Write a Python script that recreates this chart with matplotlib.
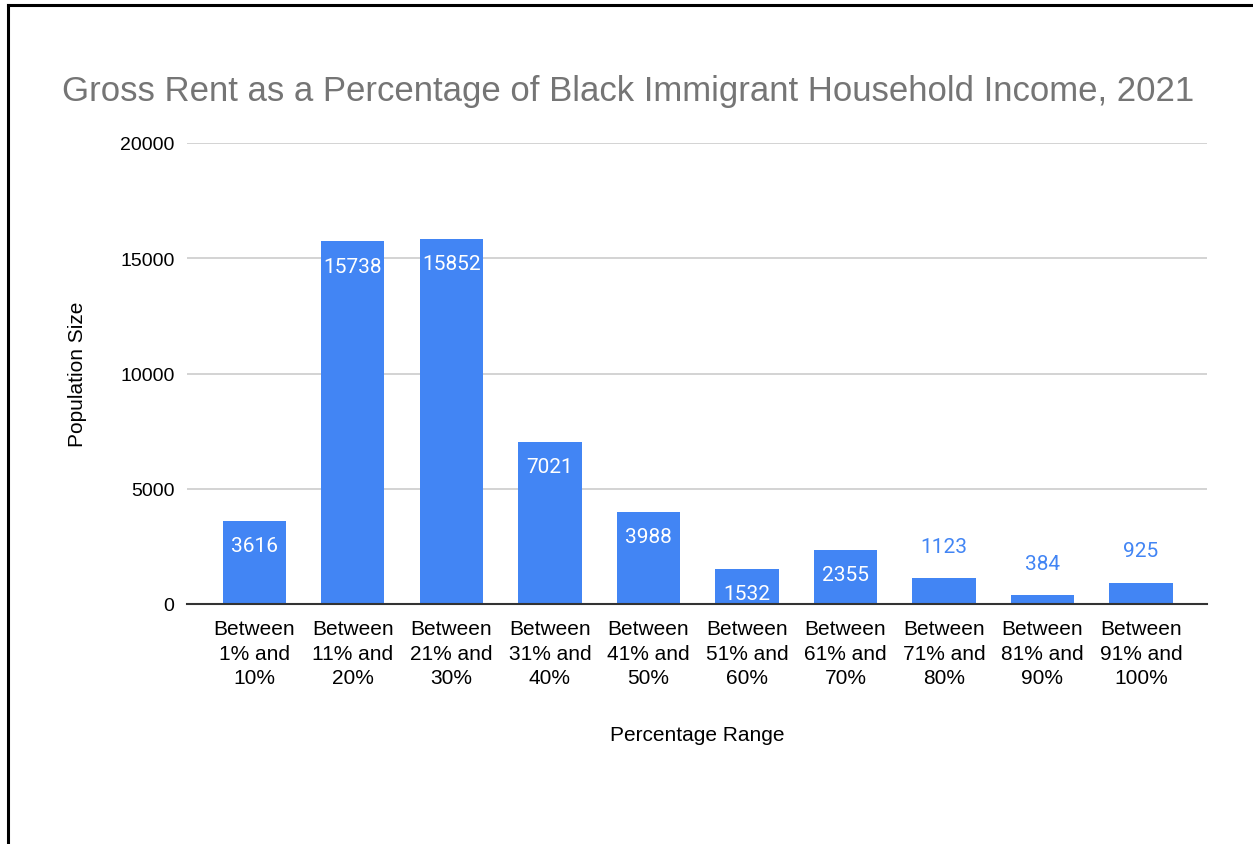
import matplotlib.pyplot as plt
from matplotlib.lines import Line2D

plt.rcParams['font.family'] = ['Liberation Sans', 'DejaVu Sans']

categories = ["Between\n1% and\n10%", "Between\n11% and\n20%", "Between\n21% and\n30%",
              "Between\n31% and\n40%", "Between\n41% and\n50%", "Between\n51% and\n60%",
              "Between\n61% and\n70%", "Between\n71% and\n80%", "Between\n81% and\n90%",
              "Between\n91% and\n100%"]
population = [3616, 15738, 15852, 7021, 3988, 1532, 2355, 1123, 384, 925]
yticks = [0, 5000, 10000, 15000, 20000]

W, H = 1253, 845
fig = plt.figure(figsize=(W / 100, H / 100), dpi=100)
ax = fig.add_axes([187 / W, 1 - 605 / H, (1207 - 187) / W, (605 - 144) / H])

blue = "#4285f4"
x = range(len(categories))
bars = ax.bar(x, population, width=0.64, color=blue, zorder=3)

ax.set_xlim(-0.685, len(categories) - 1 + 0.67)
ax.set_ylim(0, 20000)
ax.set_yticks(yticks)
ax.set_yticklabels([str(v) for v in yticks], fontsize=14)
ax.set_xticks(list(x))
ax.set_xticklabels(categories, fontsize=15, linespacing=1.36)
ax.tick_params(axis='both', length=0)
ax.tick_params(axis='y', pad=9)
ax.tick_params(axis='x', pad=11)
ax.grid(axis='y', color="#cccccc", linewidth=1.2, zorder=0)
for s in ['top', 'right', 'left']:
    ax.spines[s].set_visible(False)
ax.spines['bottom'].set_color("#333333")
ax.spines['bottom'].set_linewidth(1.5)
ax.spines['bottom'].set_zorder(4)

for i, v in enumerate(population):
    if v >= 1500:
        ax.annotate(str(v), (i, v), xytext=(0, -11), textcoords='offset points',
                    ha='center', va='top', color='white', fontsize=15, zorder=5,
                    family=['Roboto', 'DejaVu Sans'])
    else:
        ax.annotate(str(v), (i, v), xytext=(0, 16), textcoords='offset points',
                    ha='center', va='bottom', color=blue, fontsize=15, zorder=5,
                    family=['Roboto', 'DejaVu Sans'])

ax.set_ylabel("Population Size", fontsize=15, labelpad=24)
ax.set_xlabel("Percentage Range", fontsize=15, labelpad=27)
fig.text(628 / W, 1 - 91 / H, "Gross Rent as a Percentage of Black Immigrant Household Income, 2021",
         ha='center', va='center', fontsize=25, color="#757575")

# frame lines at top and left
fig.add_artist(Line2D([8 / W, 1], [1 - 6 / H, 1 - 6 / H], color='black', linewidth=2.2))
fig.add_artist(Line2D([8 / W, 8 / W], [0, 1 - 6 / H], color='black', linewidth=2.2))

fig.savefig("out.png", dpi=100)
